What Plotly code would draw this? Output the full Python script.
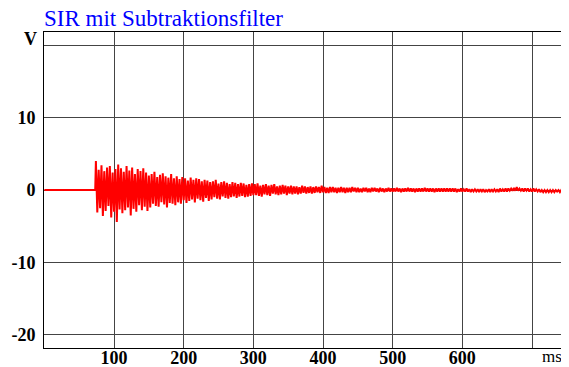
import plotly.graph_objects as go

step_ms = 2.0
onset_ms = 73.0
seg_start_ms = 74.0

sig_074_110 = [4.0, -3.1, 2.8, -2.5, 3.4, -3.6, 2.6, -2.9, 3.1, -2.2, 3.3, -3.8, 2.4, -3.0, 2.9, -4.4, 3.5, -2.7, 3.0]
sig_112_150 = [-3.2, 2.5, -2.8, 3.3, -2.4, 2.7, -3.5, 3.1, -2.6, 2.2, -3.0, 2.9, -2.1, 2.6, -2.8, 3.0, -2.3, 2.4, -2.9, 2.0]
sig_152_190 = [-2.4, 2.2, -1.9, 2.5, -2.2, 1.8, -2.3, 2.1, -1.7, 2.3, -2.0, 1.9, -2.4, 1.7, -1.8, 2.2, -1.9, 1.6, -2.1, 1.9]
sig_192_240 = [-1.7, 1.5, -1.9, 1.8, -1.4, 1.6, -1.8, 1.3, -1.5, 1.7, -1.3, 1.4, -1.7, 1.6, -1.2, 1.5, -1.4, 1.2, -1.6, 1.4, -1.1, 1.3, -1.5, 1.1, -1.3]
sig_242_300 = [1.2, -1.0, 1.4, -1.2, 0.9, -1.3, 1.1, -0.9, 1.2, -1.1, 1.0, -1.2, 0.8, -1.0, 1.1, -0.9, 1.0, -1.1, 0.8, -0.9, 1.0, -0.8, 0.9, -1.0, 0.7, -0.9, 0.8, -0.8, 0.9, -0.7]
sig_302_360 = [0.8, -0.7, 0.9, -0.8, 0.6, -0.9, 0.7, -0.6, 0.8, -0.7, 0.6, -0.8, 0.7, -0.5, 0.8, -0.6, 0.5, -0.7, 0.6, -0.6, 0.7, -0.5, 0.6, -0.7, 0.5, -0.5, 0.6, -0.6, 0.5, -0.5]
sig_362_420 = [0.5, -0.6, 0.4, -0.5, 0.6, -0.4, 0.5, -0.5, 0.4, -0.4, 0.5, -0.5, 0.4, -0.4, 0.5, -0.3, 0.4, -0.4, 0.6, -0.3, 0.4, -0.4, 0.3, -0.4, 0.4, -0.3, 0.4, -0.3, 0.3, -0.4]
sig_422_500 = [0.3, -0.3, 0.4, -0.3, 0.3, -0.4, 0.3, -0.3, 0.3, -0.3, 0.4, -0.2, 0.3, -0.3, 0.3, -0.3, 0.2, -0.3, 0.3, -0.2,
               0.3, -0.3, 0.2, -0.3, 0.3, -0.2, 0.3, -0.2, 0.2, -0.3, 0.3, -0.2, 0.2, -0.3, 0.2, -0.2, 0.3, -0.2, 0.2, -0.2]
sig_502_620 = [0.2, -0.2, 0.3, -0.2, 0.2, -0.3, 0.2, -0.2, 0.2, -0.2, 0.3, -0.2, 0.2, -0.2, 0.2, -0.3, 0.2, -0.2, 0.2, -0.2,
               0.2, -0.2, 0.3, -0.2, 0.2, -0.2, 0.2, -0.2, 0.2, -0.3, 0.2, -0.2, 0.2, -0.2, 0.2, -0.2, 0.2, -0.2, 0.2, -0.2,
               0.2, -0.2, 0.2, -0.2, 0.2, -0.3, 0.1, -0.2, 0.2, -0.2, 0.1, -0.2, 0.2, -0.2, 0.1, -0.3, 0.1, -0.2, 0.1, -0.2]
sig_622_680 = [0.1, -0.3, 0.1, -0.2, 0.1, -0.3, 0.0, -0.2, 0.1, -0.3, 0.1, -0.2, 0.1, -0.2, 0.1, -0.3, 0.2, -0.2, 0.1, -0.2,
               0.2, -0.2, 0.2, -0.1, 0.2, -0.1, 0.3, -0.1, 0.4, -0.1]
sig_682_744 = [0.2, -0.1, 0.2, -0.2, 0.2, -0.1, 0.2, -0.2, 0.1, -0.2, 0.2, -0.2, 0.1, -0.2, 0.1, -0.3, 0.0, -0.3, 0.0, -0.3,
               0.0, -0.3, 0.0, -0.3, 0.0, -0.3, 0.0, -0.2, 0.0, -0.3, 0.0, -0.2]

x_tick_vals = [100, 200, 300, 400, 500, 600, 700]
x_tick_text = ["100", "200", "300", "400", "500", "600", ""]
y_tick_vals = [-20, -10, 0, 10, 20]
y_tick_text = ["-20", "-10", "0", "10", ""]
y_unit = "V"
y_unit_at = 20
x_unit = "ms"

signal = (sig_074_110 + sig_112_150 + sig_152_190 + sig_192_240 + sig_242_300 + sig_302_360
          + sig_362_420 + sig_422_500 + sig_502_620 + sig_622_680 + sig_682_744)
t = [0.0, onset_ms] + [seg_start_ms + step_ms * i for i in range(len(signal))]
v = [0.0, 0.0] + signal

fig = go.Figure()
fig.add_trace(go.Scatter(x=t, y=v, mode="lines", line=dict(color="#ff0000", width=2),
                         hoverinfo="skip", showlegend=False))

serif = "Liberation Serif, Times New Roman, serif"
# the page body adds an 8 px offset, so the figure is 8 px smaller and margins shifted
fig.update_layout(
    width=561, height=359,
    margin=dict(l=36, r=7, t=24, b=19, autoexpand=False),
    paper_bgcolor="white", plot_bgcolor="white",
    font=dict(family=serif, color="black"),
    showlegend=False,
)
fig.update_xaxes(range=[-0.5, 743], tickvals=x_tick_vals, ticktext=x_tick_text, automargin=False,
                 showgrid=True, gridcolor="#444444", gridwidth=1, zeroline=False,
                 showline=True, linecolor="black", linewidth=1, mirror=True,
                 ticks="", ticklabelstandoff=-7,
                 tickfont=dict(family=serif, size=18, color="black", weight="bold"))
fig.update_yaxes(range=[-21.8, 21.8], tickvals=y_tick_vals, ticktext=y_tick_text, automargin=False,
                 showgrid=True, gridcolor="#444444", gridwidth=1, zeroline=False,
                 showline=True, linecolor="black", linewidth=1, mirror=True,
                 ticks="", ticklabelstandoff=4,
                 tickfont=dict(family=serif, size=18, color="black", weight="bold"))

fig.add_annotation(text="SIR mit Subtraktionsfilter", xref="paper", yref="paper",
                   x=0, y=1, xanchor="left", yanchor="bottom", yshift=-1, xshift=-2, showarrow=False,
                   font=dict(family=serif, size=23, color="#0000ff"))
fig.add_annotation(text=y_unit, xref="paper", yref="y", x=0, y=y_unit_at, xanchor="right",
                   yanchor="middle", xshift=-5, yshift=6, showarrow=False,
                   font=dict(family=serif, size=18, color="black", weight="bold"))
fig.add_annotation(text=x_unit, xref="paper", yref="paper", x=0.981, y=0, xanchor="center",
                   yanchor="top", yshift=3, showarrow=False,
                   font=dict(family=serif, size=17, color="black"))

fig.write_html("out.html")
